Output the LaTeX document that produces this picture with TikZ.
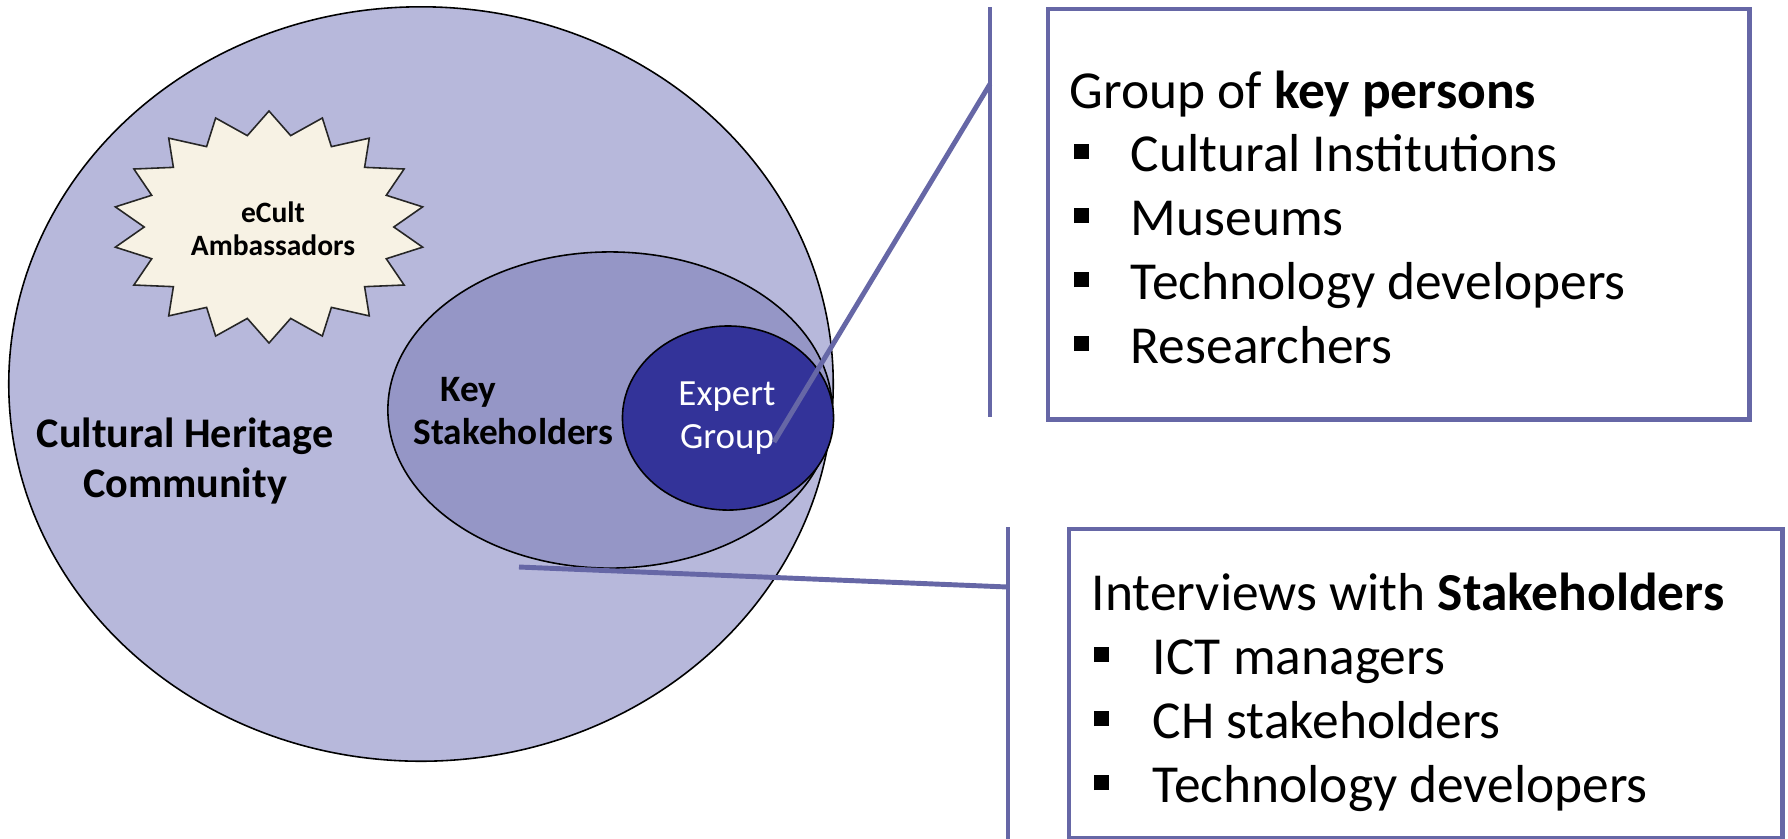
\documentclass[tikz,border=0pt]{standalone}
\usepackage{fontspec}
\setmainfont{Carlito}
\usetikzlibrary{shapes.geometric}
\definecolor{outerc}{HTML}{B7B8DB}
\definecolor{keyc}{HTML}{9596C6}
\definecolor{expc}{HTML}{333399}
\definecolor{linec}{HTML}{6667A6}
\definecolor{starc}{HTML}{F7F2E4}
\tikzset{
  ell/.style={ellipse, draw=black, line width=0.45pt, inner sep=0pt},
  conn/.style={draw=linec, line width=1.4pt},
  boxsty/.style={draw=linec, line width=1.25pt, inner sep=0pt, anchor=north west},
  txt/.style={inner sep=0pt, anchor=base west},
  bigtxt/.style={txt, font=\fontsize{15.2}{18}\selectfont},
}
\newcommand{\bul}[1]{\makebox[#1][l]{\rule[0.12cm]{0.15cm}{0.15cm}}}
\begin{document}
\begin{tikzpicture}[x=0.01cm,y=-0.01cm]
\useasboundingbox (0,0) rectangle (1788,838);
% outer community
\node[ell, fill=outerc, minimum width=8.24cm, minimum height=7.54cm] (chc) at (421,384) {};
% star
\draw[fill=starc, draw=black!85, line width=0.45pt]
  plot[samples at={0,...,35}, variable=\k]
  ({269+156*(1-0.2*mod(\k,2))*cos(10*\k+10)}, {227+116*(1-0.2*mod(\k,2))*sin(10*\k+10)}) -- cycle;
\node[inner sep=0pt, align=center, font=\fontsize{8.4}{9.4}\selectfont\bfseries] (amb) at (273,229) {eCult\\Ambassadors};
% key stakeholders
\node[ell, fill=keyc, minimum width=4.44cm, minimum height=3.16cm] (ks) at (610,410) {};
% expert group
\node[ell, fill=expc, minimum width=2.11cm, minimum height=1.84cm] (eg) at (728,418) {};
% texts in circles
\node[inner sep=0pt, align=center, font=\fontsize{12}{14}\selectfont\bfseries] (chct) at (185,461) {Cultural Heritage\\Community};
\node[inner sep=0pt, align=left, anchor=west, font=\fontsize{10.6}{12.2}\selectfont\bfseries] (kst) at (413,411) {\hspace*{7.7pt}Key\\Stakeholders};
\node[inner sep=0pt, align=center, text=white, font=\fontsize{10.5}{12.2}\selectfont] (egt) at (727,418) {Expert\\Group};
% boxes
\node[boxsty, minimum width=7.01cm, minimum height=4.10cm] (box1) at (1046,7) {};
\node[boxsty, minimum width=7.13cm, minimum height=3.09cm] (box2) at (1067,527) {};
% connectors
\coordinate (v1t) at (990,7);
\coordinate (v1b) at (990,417);
\coordinate (v1m) at (990,84);
\coordinate (egp) at (774,442);
\draw[conn] (v1t) -- (v1b);
\draw[conn] (egp) -- (v1m);
\coordinate (v2t) at (1008,527);
\coordinate (v2b) at (1008,840);
\coordinate (v2m) at (1008,587);
\coordinate (ksp) at (519,567);
\draw[conn] (v2t) -- (v2b);
\draw[conn] (ksp) -- (v2m);
% box 1 text
\node[bigtxt] (t1) at (1069,108) {Group of \textbf{key persons}};
\node[bigtxt] (t1a) at (1073,171) {\bul{0.57cm}Cultural Institutions};
\node[bigtxt] (t1b) at (1073,235) {\bul{0.57cm}Museums};
\node[bigtxt] (t1c) at (1073,299) {\bul{0.57cm}Technology developers};
\node[bigtxt] (t1d) at (1073,363) {\bul{0.57cm}Researchers};
% box 2 text
\node[bigtxt] (t2) at (1091,610) {Interviews with \textbf{Stakeholders}};
\node[bigtxt] (t2a) at (1093,674) {\bul{0.59cm}ICT managers};
\node[bigtxt] (t2b) at (1093,738) {\bul{0.59cm}CH stakeholders};
\node[bigtxt] (t2c) at (1093,802) {\bul{0.59cm}Technology developers};
\end{tikzpicture}
\end{document}
